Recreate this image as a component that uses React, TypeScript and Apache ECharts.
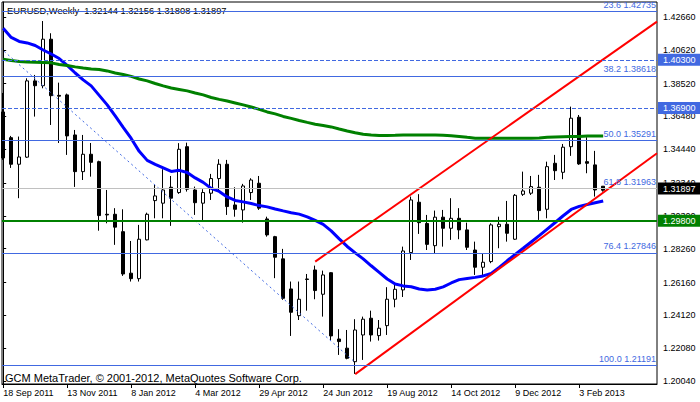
import React, { useEffect, useRef } from "react";
import * as echarts from "echarts";

// ---------- data ----------
const symbolTitle = "EURUSD,Weekly";
const copyright = "GCM MetaTrader, © 2001-2012, MetaQuotes Software Corp.";

const dateLabels = [
  "18 Sep 2011", "13 Nov 2011", "8 Jan 2012", "4 Mar 2012", "29 Apr 2012",
  "24 Jun 2012", "19 Aug 2012", "14 Oct 2012", "9 Dec 2012", "3 Feb 2013",
];
const dateTickIdx = [0, 8, 16, 24, 32, 40, 48, 56, 64, 72];

const yTicks = [
  1.2004, 1.2208, 1.2412, 1.2616, 1.2826, 1.303, 1.3234, 1.3444, 1.3648,
  1.3852, 1.4062, 1.4266,
];

const opens = [
  1.3676, 1.3516, 1.3351, 1.3395, 1.3869, 1.3839, 1.4128, 1.3779, 1.3782, 1.3533,
  1.3305, 1.3413, 1.3367, 1.304, 1.304, 1.2932, 1.2674, 1.264, 1.2881, 1.3125,
  1.3109, 1.3208, 1.3175, 1.346, 1.3191, 1.3109, 1.3171, 1.3262, 1.3351, 1.3098,
  1.3067, 1.3175, 1.3233, 1.3011, 1.2901, 1.2763, 1.2576, 1.241, 1.2638, 1.2694,
  1.2543, 1.2677, 1.2265, 1.2208, 1.2124, 1.229, 1.2394, 1.2286, 1.2348, 1.2512,
  1.257, 1.2802, 1.3115, 1.2983, 1.2845, 1.3022, 1.2953, 1.3015, 1.2943, 1.2818,
  1.2711, 1.2746, 1.2963, 1.2978, 1.2885, 1.3164, 1.3171, 1.3208, 1.3071, 1.3357,
  1.3301, 1.346, 1.3643, 1.3367, 1.3347, 1.32144,
];
const highs = [
  1.3794, 1.3527, 1.3523, 1.3885, 1.3906, 1.4241, 1.4165, 1.3858, 1.379, 1.3564,
  1.3533, 1.3483, 1.3373, 1.3191, 1.3078, 1.3071, 1.2874, 1.2974, 1.305, 1.3222,
  1.332, 1.3278, 1.3482, 1.3485, 1.3212, 1.3196, 1.3291, 1.3382, 1.3378, 1.3208,
  1.3229, 1.3264, 1.3278, 1.3025, 1.2906, 1.2825, 1.2622, 1.2622, 1.2669, 1.2721,
  1.269, 1.268, 1.2326, 1.2321, 1.2388, 1.2404, 1.2441, 1.2383, 1.2587, 1.2601,
  1.2839, 1.315, 1.3165, 1.3036, 1.3063, 1.3067, 1.314, 1.3078, 1.2988, 1.287,
  1.2798, 1.2984, 1.3025, 1.3123, 1.3166, 1.3305, 1.3278, 1.3285, 1.3367, 1.3409,
  1.3477, 1.3709, 1.3657, 1.3519, 1.3434, 1.32156,
];
const lows = [
  1.3378, 1.3328, 1.314, 1.339, 1.3647, 1.3823, 1.3595, 1.3483, 1.3409, 1.321,
  1.3253, 1.3274, 1.2938, 1.2984, 1.285, 1.2657, 1.2622, 1.2622, 1.2878, 1.3015,
  1.3015, 1.2968, 1.3167, 1.3181, 1.3036, 1.3001, 1.3129, 1.3191, 1.3036, 1.3025,
  1.2988, 1.3129, 1.3067, 1.2901, 1.2643, 1.2508, 1.2284, 1.2383, 1.2441, 1.2512,
  1.2404, 1.2259, 1.2166, 1.2139, 1.2048, 1.2135, 1.2249, 1.2255, 1.229, 1.2462,
  1.2526, 1.2756, 1.2918, 1.2818, 1.2794, 1.2839, 1.2881, 1.2885, 1.2818, 1.2663,
  1.2663, 1.2736, 1.2829, 1.287, 1.2881, 1.3154, 1.316, 1.3005, 1.3015, 1.3253,
  1.3258, 1.3403, 1.3347, 1.3295, 1.315, 1.31808,
];
const closes = [
  1.339, 1.3351, 1.3396, 1.3869, 1.3839, 1.4128, 1.3777, 1.3774, 1.3527, 1.3305,
  1.3413, 1.3363, 1.3032, 1.3036, 1.296, 1.2669, 1.264, 1.2885, 1.304, 1.3154,
  1.3191, 1.314, 1.3444, 1.3196, 1.3112, 1.3175, 1.3262, 1.3351, 1.3088, 1.3071,
  1.3216, 1.3253, 1.3078, 1.2912, 1.2773, 1.2518, 1.2431, 1.2512, 1.2635, 1.2566,
  1.2663, 1.2284, 1.2249, 1.2145, 1.2321, 1.2388, 1.229, 1.2332, 1.2512, 1.2574,
  1.2812, 1.3129, 1.2988, 1.2853, 1.3022, 1.2953, 1.3015, 1.2943, 1.2835, 1.2711,
  1.2742, 1.2974, 1.2978, 1.2922, 1.3158, 1.3185, 1.3212, 1.3063, 1.3336, 1.3311,
  1.3457, 1.3637, 1.3353, 1.3357, 1.3191, 1.31897,
];

const maFast = [
  1.4196, 1.4139, 1.4114, 1.4105, 1.4089, 1.4061, 1.4036, 1.4008, 1.3965, 1.3918,
  1.3875, 1.3838, 1.3779, 1.372, 1.3651, 1.358, 1.3511, 1.3431, 1.3375, 1.335,
  1.3328, 1.3306, 1.3313, 1.33, 1.3266, 1.3238, 1.3201, 1.3182, 1.3148, 1.3126,
  1.3117, 1.3107, 1.3094, 1.3086, 1.3073, 1.3061, 1.305, 1.3041, 1.3024, 1.3002,
  1.2977, 1.2937, 1.2887, 1.284, 1.28, 1.2763, 1.272, 1.2679, 1.2638, 1.2607,
  1.2595, 1.259, 1.2576, 1.257, 1.2574, 1.2589, 1.2613, 1.2634, 1.2641, 1.2648,
  1.2657, 1.2672, 1.271, 1.2751, 1.2791, 1.2829, 1.2868, 1.2907, 1.2948, 1.2989,
  1.3031, 1.307, 1.3089, 1.3101, 1.3112, 1.3123,
];
const maSlow = [
  1.4004, 1.3996, 1.399, 1.3987, 1.3985, 1.3983, 1.3981, 1.3971, 1.3965, 1.3956,
  1.3949, 1.3943, 1.394, 1.3931, 1.3918, 1.3909, 1.3897, 1.3881, 1.3869, 1.3853,
  1.3838, 1.3825, 1.3816, 1.3807, 1.3794, 1.3782, 1.3766, 1.3754, 1.3744, 1.3732,
  1.372, 1.3707, 1.3692, 1.3676, 1.3664, 1.3648, 1.3636, 1.3623, 1.3611, 1.36,
  1.3592, 1.3583, 1.357, 1.3558, 1.3547, 1.3537, 1.3533, 1.353, 1.353, 1.3531,
  1.3533, 1.3533, 1.3533, 1.3533, 1.3533, 1.3531, 1.3528, 1.3524, 1.3518, 1.3513,
  1.3513, 1.3513, 1.3513, 1.3513, 1.3513, 1.3513, 1.3513, 1.3514, 1.3518, 1.3521,
  1.3522, 1.3523, 1.3524, 1.3526, 1.3527, 1.3527,
];

const fibLevels = [23.6, 38.2, 50.0, 61.8, 76.4, 100.0];
const fibPrices = [1.42735, 1.38618, 1.35291, 1.31963, 1.27846, 1.21191];
const fibTrend = [[-20, 1.49391], [44, 1.21191]];
const channelUpper = [[39, 1.2746], [81.725, 1.4237]];
const channelLower = [[44, 1.2047], [81.725, 1.3419]];
const dashedLevels = [1.403, 1.369];
const bidPrice = 1.31897;
const supportLevel = 1.298;

// ---------- styling ----------
const FONT = 'Tahoma, "Liberation Sans", Arial, sans-serif';
const ROYAL = "#4169E1";

export default function App() {
  const ref = useRef<HTMLDivElement>(null);

  useEffect(() => {
    if (!ref.current) return;
    const chart = echarts.init(ref.current, null, { renderer: "svg" });

    const candles = opens.map((o, i) => [i, o, closes[i], lows[i], highs[i]]);
    const last = opens.length - 1;
    const titleText = `${symbolTitle}  ${opens[last].toFixed(5)} ${highs[last].toFixed(5)} ${lows[last].toFixed(5)} ${closes[last].toFixed(5)}`;

    const tag = (value: number, bg: string) => ({
      show: true,
      position: "end",
      formatter: value.toFixed(5),
      color: "#ffffff",
      backgroundColor: bg,
      padding: [1, 5, 1, 5],
      fontSize: 9,
      lineHeight: 10,
      fontFamily: FONT,
      distance: 1,
    });

    const markData: any[] = [];
    fibPrices.forEach((p, k) => {
      markData.push({
        yAxis: p,
        lineStyle: { color: ROYAL, width: 1, type: "solid" },
        label: {
          show: true,
          position: "insideEndTop",
          formatter: `${fibLevels[k].toFixed(1)} ${p.toFixed(5)}`,
          color: ROYAL,
          fontSize: 9,
          fontFamily: FONT,
          distance: [1, 2],
        },
      });
    });
    dashedLevels.forEach((p) => {
      markData.push({
        yAxis: p,
        lineStyle: { color: ROYAL, width: 1, type: [4, 2] },
        label: tag(p, ROYAL),
      });
    });
    markData.push({
      yAxis: bidPrice,
      lineStyle: { color: "#C0C0C0", width: 1, type: "solid" },
      label: tag(bidPrice, "#000000"),
    });
    markData.push({
      yAxis: supportLevel,
      lineStyle: { color: "#008000", width: 2, type: "solid" },
      label: tag(supportLevel, "#008000"),
    });

    chart.setOption({
      animation: false,
      backgroundColor: "#ffffff",
      grid: {
        left: 2,
        right: 43,
        top: 2,
        bottom: 18,
        show: true,
        borderColor: "#000000",
        borderWidth: 1,
        backgroundColor: "transparent",
      },
      xAxis: {
        type: "value",
        min: -0.15,
        max: 81.725,
        axisLine: { show: true, lineStyle: { color: "#000000", width: 1 } },
        axisTick: {
          show: true,
          length: 4,
          customValues: dateTickIdx,
          lineStyle: { color: "#000000" },
        },
        axisLabel: {
          customValues: dateTickIdx,
          formatter: (v: number) => dateLabels[dateTickIdx.indexOf(Math.round(v))] || "",
          align: "left",
          margin: 4,
          color: "#000000",
          fontSize: 9,
          fontFamily: FONT,
        },
        splitLine: { show: false },
      },
      yAxis: {
        type: "value",
        position: "right",
        min: 1.19853,
        max: 1.43592,
        axisLine: { show: true, lineStyle: { color: "#000000", width: 1 } },
        axisTick: {
          show: true,
          length: 3,
          customValues: yTicks,
          lineStyle: { color: "#000000" },
        },
        axisLabel: {
          customValues: yTicks,
          formatter: (v: number) => v.toFixed(5),
          margin: 6,
          color: "#000000",
          fontSize: 9,
          fontFamily: FONT,
        },
        splitLine: { show: false },
      },
      series: [
        {
          type: "candlestick",
          data: candles,
          barWidth: 4,
          silent: true,
          z: 2,
          itemStyle: {
            color: "#ffffff",
            color0: "#000000",
            borderColor: "#000000",
            borderColor0: "#000000",
            borderWidth: 1,
          },
        },
        {
          type: "line",
          data: maFast.map((v, i) => [i, v]),
          symbol: "none",
          silent: true,
          z: 3,
          lineStyle: { color: "#0000FF", width: 3 },
        },
        {
          type: "line",
          data: maSlow.map((v, i) => [i, v]),
          symbol: "none",
          silent: true,
          z: 3,
          lineStyle: { color: "#008000", width: 3 },
        },
        {
          type: "line",
          data: fibTrend,
          symbol: "none",
          silent: true,
          z: 3,
          lineStyle: { color: ROYAL, width: 1, type: [2, 3] },
        },
        {
          type: "line",
          data: channelUpper,
          symbol: "none",
          silent: true,
          z: 3,
          lineStyle: { color: "#FF0000", width: 2 },
        },
        {
          type: "line",
          data: channelLower,
          symbol: "none",
          silent: true,
          z: 3,
          lineStyle: { color: "#FF0000", width: 2 },
        },
        {
          type: "line",
          data: [[0, fibPrices[5]]],
          symbol: "none",
          silent: true,
          clip: false,
          z: 4,
          lineStyle: { opacity: 0 },
          markLine: {
            silent: true,
            symbol: ["none", "none"],
            animation: false,
            data: markData,
          },
        },
      ],
      graphic: [
        {
          type: "text",
          x: 7,
          y: 10.5,
          silent: true,
          style: {
            text: titleText,
            fill: "#000000",
            fontSize: 9.3,
            fontFamily: FONT,
            verticalAlign: "middle",
          },
        },
        {
          type: "text",
          x: 5,
          y: 377.5,
          silent: true,
          style: {
            text: copyright,
            fill: "#000000",
            fontSize: 11,
            fontFamily: FONT,
            verticalAlign: "middle",
          },
        },
      ],
    });

    return () => chart.dispose();
  }, []);

  return (
    <div
      ref={ref}
      style={{ position: "absolute", left: 0, top: 0, width: 700, height: 402, background: "#fff" }}
    />
  );
}
